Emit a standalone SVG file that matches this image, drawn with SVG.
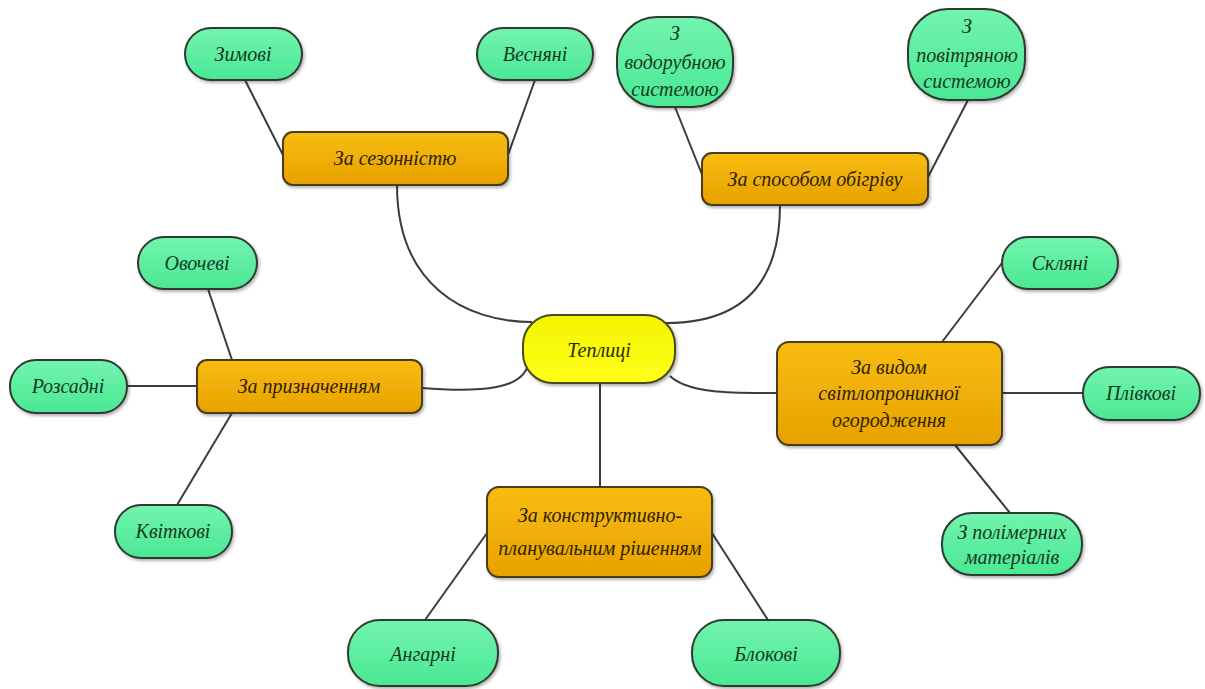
<svg xmlns="http://www.w3.org/2000/svg" width="1205" height="689" viewBox="0 0 1205 689">
<defs>
<linearGradient id="gGreen" x1="0" y1="0" x2="0" y2="1"><stop offset="0" stop-color="#72f4ae"/><stop offset="1" stop-color="#4ae894"/></linearGradient>
<linearGradient id="gOrange" x1="0" y1="0" x2="0" y2="1"><stop offset="0" stop-color="#f7bd10"/><stop offset="1" stop-color="#e8a100"/></linearGradient>
<linearGradient id="gYellow" x1="0" y1="0" x2="0" y2="1"><stop offset="0" stop-color="#f4f400"/><stop offset="1" stop-color="#ffff1a"/></linearGradient>
<filter id="sh" x="-10%" y="-10%" width="130%" height="140%"><feDropShadow dx="1.5" dy="2" stdDeviation="1.5" flood-color="#000" flood-opacity="0.3"/></filter>
</defs>
<style>
.g{fill:url(#gGreen);stroke:#2e3a2e;stroke-width:2;filter:url(#sh)}
.o{fill:url(#gOrange);stroke:#4a3a1a;stroke-width:2;filter:url(#sh)}
.y{fill:url(#gYellow);stroke:#4a4a1a;stroke-width:2;filter:url(#sh)}
text{font-family:"Liberation Serif","DejaVu Serif",serif;font-style:italic;font-size:20px;text-anchor:middle}
.tg{fill:#143a1e}
.to{fill:#2e2200}
.c{fill:none;stroke:#3c3c3c;stroke-width:2}
</style>
<rect width="1205" height="689" fill="#fff"/>
<g id="connectors">
<line class="c" x1="245" y1="80" x2="284" y2="157"/>
<line class="c" x1="535" y1="80" x2="508" y2="155"/>
<line class="c" x1="675" y1="107" x2="703" y2="177"/>
<line class="c" x1="968" y1="100" x2="928" y2="177"/>
<line class="c" x1="208" y1="289" x2="232" y2="360"/>
<line class="c" x1="127" y1="386" x2="197" y2="386"/>
<line class="c" x1="177" y1="505" x2="232" y2="413"/>
<line class="c" x1="1002" y1="263" x2="942" y2="342"/>
<line class="c" x1="1002" y1="393" x2="1083" y2="393"/>
<line class="c" x1="955" y1="445" x2="1010" y2="513"/>
<line class="c" x1="425" y1="620" x2="487" y2="533"/>
<line class="c" x1="768" y1="620" x2="712" y2="533"/>
<line class="c" x1="600" y1="383" x2="600" y2="487"/>
<path class="c" d="M397,185 C397,285 465,322 532,322"/>
<path class="c" d="M780,205 C780,295 730,323 666,323"/>
<path class="c" d="M422,388 C485,393 522,388 528,365"/>
<path class="c" d="M670,376 C690,395 740,393 777,393"/>
</g>
<g id="n-teplytsi"><rect class="y" x="523" y="315" width="152" height="68" rx="30"/><text x="599" y="357" fill="#2a2a00">Теплиці</text></g>
<g id="n-sezon"><rect class="o" x="283" y="132" width="225" height="53" rx="10"/><text class="to" x="395" y="165">За сезонністю</text></g>
<g id="n-zymovi"><rect class="g" x="185" y="28" width="117" height="52" rx="26"/><text class="tg" x="243" y="61">Зимові</text></g>
<g id="n-vesniani"><rect class="g" x="477" y="28" width="116" height="52" rx="26"/><text class="tg" x="535" y="61">Весняні</text></g>
<g id="n-obigriv"><rect class="o" x="702" y="153" width="226" height="52" rx="10"/><text class="to" x="815" y="186">За способом обігріву</text></g>
<g id="n-vodo"><rect class="g" x="617" y="17" width="116" height="90" rx="40"/><text class="tg" x="675" y="40">З</text><text class="tg" x="675" y="69">водорубною</text><text class="tg" x="675" y="96">системою</text></g>
<g id="n-povitr"><rect class="g" x="908" y="9" width="117" height="91" rx="40"/><text class="tg" x="967" y="33">З</text><text class="tg" x="967" y="62">повітряною</text><text class="tg" x="967" y="88">системою</text></g>
<g id="n-pryzn"><rect class="o" x="197" y="360" width="225" height="53" rx="10"/><text class="to" x="309" y="393">За призначенням</text></g>
<g id="n-ovochevi"><rect class="g" x="138" y="237" width="119" height="52" rx="26"/><text class="tg" x="197" y="270">Овочеві</text></g>
<g id="n-rozsadni"><rect class="g" x="10" y="360" width="117" height="53" rx="26"/><text class="tg" x="68" y="393">Розсадні</text></g>
<g id="n-kvitkovi"><rect class="g" x="115" y="505" width="117" height="53" rx="26"/><text class="tg" x="173" y="538">Квіткові</text></g>
<g id="n-vyd"><rect class="o" x="777" y="342" width="225" height="103" rx="12"/><text class="to" x="889" y="374">За видом</text><text class="to" x="889" y="400">світлопроникної</text><text class="to" x="889" y="427">огородження</text></g>
<g id="n-skliani"><rect class="g" x="1002" y="237" width="116" height="52" rx="26"/><text class="tg" x="1060" y="270">Скляні</text></g>
<g id="n-plivkovi"><rect class="g" x="1083" y="367" width="117" height="53" rx="26"/><text class="tg" x="1141" y="400">Плівкові</text></g>
<g id="n-polimer"><rect class="g" x="942" y="513" width="140" height="62" rx="30"/><text class="tg" x="1012" y="539">З полімерних</text><text class="tg" x="1012" y="564">матеріалів</text></g>
<g id="n-konstr"><rect class="o" x="487" y="487" width="225" height="90" rx="12"/><text class="to" x="600" y="522">За конструктивно-</text><text class="to" x="600" y="555">планувальним рішенням</text></g>
<g id="n-angarni"><rect class="g" x="348" y="620" width="150" height="66" rx="32"/><text class="tg" x="423" y="661">Ангарні</text></g>
<g id="n-blokovi"><rect class="g" x="692" y="620" width="148" height="66" rx="32"/><text class="tg" x="766" y="661">Блокові</text></g>
</svg>
